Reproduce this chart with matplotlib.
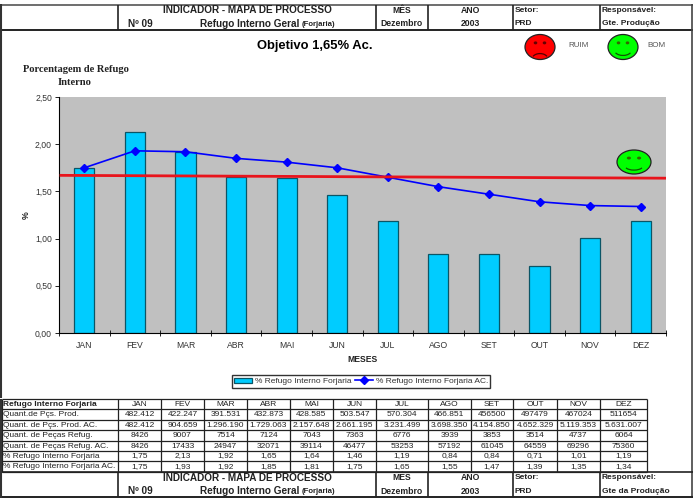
import numpy as np
import matplotlib
matplotlib.use('Agg')
import matplotlib.pyplot as plt
from matplotlib.patches import Ellipse, Arc

plt.rcParams['font.family'] = ['Liberation Sans', 'DejaVu Sans']

meses = ['JAN', 'FEV', 'MAR', 'ABR', 'MAI', 'JUN', 'JUL', 'AGO', 'SET', 'OUT', 'NOV', 'DEZ']
refugo = [1.75, 2.13, 1.92, 1.65, 1.64, 1.46, 1.19, 0.84, 0.84, 0.71, 1.01, 1.19]
refugo_ac = [1.75, 1.93, 1.92, 1.85, 1.81, 1.75, 1.65, 1.55, 1.47, 1.39, 1.35, 1.34]
objetivo_x = [-0.46, 11.48]
objetivo = [1.67, 1.64]
yticks = [0, 0.5, 1.0, 1.5, 2.0, 2.5]

prod = ['482.412', '422.247', '391.531', '432.873', '428.585', '503.547', '570.304', '466.851', '456500', '497479', '467024', '511654']
prod_ac = ['482.412', '904.659', '1.296.190', '1.729.063', '2.157.648', '2.661.195', '3.231.499', '3.698.350', '4.154.850', '4.652.329', '5.119.353', '5.631.007']
pecas = ['8426', '9007', '7514', '7124', '7043', '7363', '6776', '3939', '3853', '3514', '4737', '6064']
pecas_ac = ['8426', '17433', '24947', '32071', '39114', '46477', '53253', '57192', '61045', '64559', '69296', '75360']
pct = ['1,75', '2,13', '1,92', '1,65', '1,64', '1,46', '1,19', '0,84', '0,84', '0,71', '1,01', '1,19']
pct_ac = ['1,75', '1,93', '1,92', '1,85', '1,81', '1,75', '1,65', '1,55', '1,47', '1,39', '1,35', '1,34']
linhas = ['Refugo Interno Forjaria', 'Quant.de Pçs. Prod.', 'Quant. de Pçs. Prod. AC.', 'Quant. de Peças Refug.',
          'Quant. de Peças Refug. AC.', '% Refugo Interno Forjaria', '% Refugo Interno Forjaria AC.']

W, H = 694, 498
fig = plt.figure(figsize=(W/100, H/100), dpi=100)

# pixel layer for the form around the chart
bg = fig.add_axes([0, 0, 1, 1])
bg.set_xlim(0, W)
bg.set_ylim(H, 0)
bg.axis('off')

def hline(y, x0, x1, lw=1.0, c='#222222'):
    bg.plot([x0, x1], [y, y], color=c, lw=lw, solid_capstyle='butt')

def vline(x, y0, y1, lw=1.0, c='#222222'):
    bg.plot([x, x], [y0, y1], color=c, lw=lw, solid_capstyle='butt')

def cabecalho(y0, y1, resp):
    for x in [118, 376, 428, 513, 600]:
        vline(x, y0, y1, 1.2)
    y_a = y0 + 5.5
    y_b = y1 - 6
    bg.text(247, y_a, 'INDICADOR - MAPA DE PROCESSO', ha='center', va='center', fontsize=7.2, fontweight='bold', color='#222222')
    bg.text(128, y_b, 'Nº 09', va='center', fontsize=7.2, fontweight='bold', color='#222222')
    bg.text(200, y_b, 'Refugo Interno Geral', va='center', fontsize=7.2, fontweight='bold', color='#222222')
    bg.text(302, y_b + 0.5, '(Forjaria)', va='center', fontsize=5.6, fontweight='bold', color='#222222')
    bg.text(402, y_a, 'MÊS', ha='center', va='center', fontsize=6.2, fontweight='bold', color='#222222')
    bg.text(402, y_b, 'Dezembro', ha='center', va='center', fontsize=6.2, fontweight='bold', color='#222222')
    bg.text(470, y_a, 'ANO', ha='center', va='center', fontsize=6.2, fontweight='bold', color='#222222')
    bg.text(470, y_b, '2003', ha='center', va='center', fontsize=6.2, fontweight='bold', color='#222222')
    bg.text(515, y_a, 'Setor:', va='center', fontsize=6, fontweight='bold', color='#222222')
    bg.text(515, y_b, 'PRD', va='center', fontsize=6, fontweight='bold', color='#222222')
    bg.text(602, y_a, 'Responsável:', va='center', fontsize=6, fontweight='bold', color='#222222')
    bg.text(602, y_b, resp, va='center', fontsize=6, fontweight='bold', color='#222222')

# frame and header
hline(4.5, 1, 693, 1.2, '#555555')
hline(29.5, 1, 693, 1.4)
vline(1.5, 4, 398, 1.5, '#333333')
vline(692.5, 4, 498, 1.2, '#444444')
cabecalho(4.5, 29.5, 'Gte. Produção')

bg.text(315, 46, 'Objetivo 1,65% Ac.', ha='center', va='center', fontsize=9.4, fontweight='bold')
bg.text(76, 69, 'Porcentagem de Refugo', ha='center', va='center', fontsize=7.6, fontweight='bold', family='Liberation Serif', color='#222222')
bg.text(75, 82, 'Interno', ha='center', va='center', fontsize=7.6, fontweight='bold', family='Liberation Serif', color='#222222')
bg.text(579, 45, 'RUIM', ha='center', va='center', fontsize=5.8, color='#555555')
bg.text(656, 45, 'BOM', ha='center', va='center', fontsize=5.8, color='#555555')

def carinha(ax, cx, cy, rx, ry, cor, feliz=True):
    ax.add_patch(Ellipse((cx, cy), 2*rx, 2*ry, fc=cor, ec='#222222', lw=0.9, zorder=6))
    for dx in (-0.3, 0.3):
        ax.add_patch(Ellipse((cx + dx*rx, cy - 0.33*ry), 0.24*rx, 0.24*ry, fc='#336600' if feliz else '#660000', ec='none', zorder=7))
    if feliz:
        ax.add_patch(Arc((cx, cy + 0.25*ry), 1.15*rx, 0.85*ry, theta1=20, theta2=160, color='#115500', lw=0.9, zorder=7))
    else:
        ax.add_patch(Arc((cx, cy + 0.95*ry), 1.05*rx, 0.85*ry, theta1=200, theta2=340, color='#550000', lw=0.9, zorder=7))

carinha(bg, 540, 47, 15, 12.5, '#ff0000', feliz=False)
carinha(bg, 623, 47, 15, 12.5, '#00ff00')

# chart
x = np.arange(12)
ax = fig.add_axes([59/W, 1 - 333/H, (666-59)/W, (333-97)/H])
ax.set_facecolor('#c0c0c0')
barras = ax.bar(x, refugo, width=0.4, color='#00ccff', edgecolor='#0b5566', linewidth=0.9, label='% Refugo Interno Forjaria')
linha, = ax.plot(x, refugo_ac, color='#0000ff', lw=1.2, marker='D', ms=4, label='% Refugo Interno Forjaria AC.')
ax.plot(objetivo_x, objetivo, color='#e8141c', lw=2, zorder=5)
ax.set_xlim(-0.5, 11.5)
ax.set_ylim(0, 2.5)
ax.set_xticks(x)
ax.set_xticklabels(meses)
ax.set_yticks(yticks)
ax.set_yticklabels([('%.2f' % v).replace('.', ',') for v in yticks])
ax.tick_params(labelsize=6.2, labelcolor='#333333', length=3, width=0.7, color='#222222', pad=2)
ax.set_xticks(np.arange(-0.5, 12), minor=True)
ax.tick_params(axis='x', which='minor', length=5, width=0.7, direction='inout', color='#222222')
ax.tick_params(axis='x', which='major', length=0, pad=6)
ax.set_xlabel('MESES', fontsize=6.2, fontweight='bold', labelpad=3, color='#222222')
ax.set_ylabel('%', fontsize=6.2, fontweight='bold', labelpad=3, color='#222222')
ax.spines['top'].set_visible(False)
ax.spines['right'].set_visible(False)
ax.spines['left'].set_linewidth(0.8)
ax.spines['bottom'].set_linewidth(0.8)
leg = ax.legend(handles=[barras, linha], loc='center', bbox_to_anchor=(361/W, 1 - 381.5/H), bbox_transform=fig.transFigure, ncol=2,
                fontsize=6, frameon=True, fancybox=False, edgecolor='#333333', framealpha=1,
                columnspacing=0.4, handlelength=2.2, handletextpad=0.3, borderpad=0.3, borderaxespad=0, labelcolor='#333333')

top = fig.add_axes([0, 0, 1, 1])
top.set_xlim(0, W)
top.set_ylim(H, 0)
top.axis('off')
top.patch.set_alpha(0)
carinha(top, 634, 162, 17, 12, '#00ff00')

# table
col_x = [2, 118, 161, 204, 247, 290, 333, 376, 428, 471, 513, 557, 600, 647]
row_y = [399, 409, 420, 430, 441, 451, 461, 472]
tabela = [meses, prod, prod_ac, pecas, pecas_ac, pct, pct_ac]
for yy in row_y:
    hline(yy, 2, 647, 0.9)
for xx in col_x:
    vline(xx, 399, 472, 0.9)
for i, nome in enumerate(linhas):
    yc = (row_y[i] + row_y[i+1]) / 2
    bg.text(3, yc, nome, va='center', fontsize=6, fontweight='bold' if i == 0 else 'normal', color='#222222')
    for j, val in enumerate(tabela[i]):
        bg.text((col_x[j+1] + col_x[j+2]) / 2, yc, val, ha='center', va='center', fontsize=6, color='#222222')

# footer
hline(472, 2, 693, 1.2)
hline(497, 1, 693, 1.4)
vline(1.5, 399, 498, 1.5, '#333333')
cabecalho(472, 497, 'Gte da Produção')

fig.savefig('out.png', dpi=100)
